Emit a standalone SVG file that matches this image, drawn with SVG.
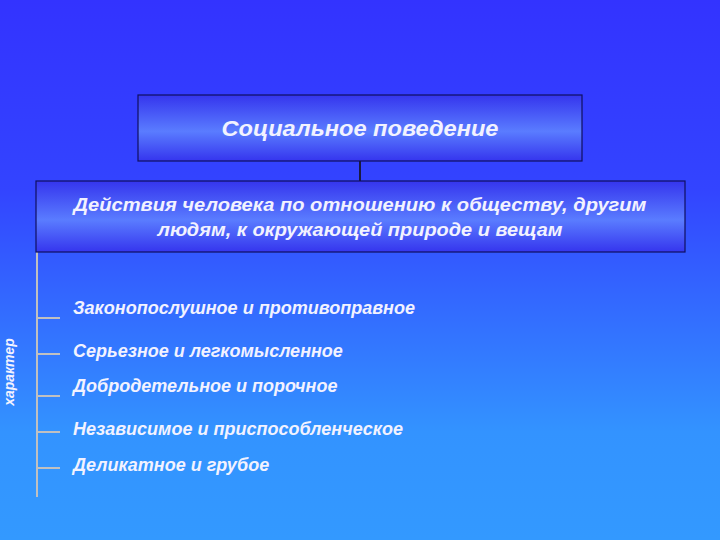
<svg xmlns="http://www.w3.org/2000/svg" width="720" height="540" viewBox="0 0 720 540">
  <defs>
    <linearGradient id="bg" x1="0" y1="0" x2="0" y2="1">
      <stop offset="0" stop-color="#3333FF"/>
      <stop offset="0.35" stop-color="#3344FF"/>
      <stop offset="0.8" stop-color="#3393FF"/>
      <stop offset="1" stop-color="#3399FF"/>
    </linearGradient>
    <linearGradient id="box" x1="0" y1="0" x2="0" y2="1">
      <stop offset="0" stop-color="#3535EE"/>
      <stop offset="0.55" stop-color="#5A7CFF"/>
      <stop offset="1" stop-color="#3535EE"/>
    </linearGradient>
    <style>
      .node { fill: url(#box); stroke: #101060; stroke-width: 1.2; }
      .t { font-family: "Liberation Sans", Arial, sans-serif; font-style: italic; font-weight: bold; fill: #F2F2FF; }
      .conn { stroke: #1a1a40; stroke-width: 2; fill: none; }
      .grey { stroke: #C0C0C0; stroke-width: 2; fill: none; }
    </style>
  </defs>
  <rect x="0" y="0" width="720" height="540" fill="url(#bg)"/>

  <g id="connectors">
    <line class="conn" x1="360" y1="161" x2="360" y2="181"/>
    <line class="grey" x1="37" y1="252" x2="37" y2="497"/>
    <line class="grey" x1="37" y1="318" x2="60" y2="318"/>
    <line class="grey" x1="37" y1="354" x2="60" y2="354"/>
    <line class="grey" x1="37" y1="396" x2="60" y2="396"/>
    <line class="grey" x1="37" y1="432" x2="60" y2="432"/>
    <line class="grey" x1="37" y1="468" x2="60" y2="468"/>
  </g>

  <g id="node-social">
    <rect class="node" x="138" y="95" width="444" height="66"/>
    <text class="t" x="360" y="136" font-size="22" text-anchor="middle" textLength="277" lengthAdjust="spacingAndGlyphs">Социальное поведение</text>
  </g>

  <g id="node-actions">
    <rect class="node" x="36" y="181" width="649" height="71"/>
    <text class="t" x="360" y="211" font-size="19" text-anchor="middle" textLength="573" lengthAdjust="spacingAndGlyphs">Действия человека по отношению к обществу, другим</text>
    <text class="t" x="360" y="236" font-size="19" text-anchor="middle" textLength="405" lengthAdjust="spacingAndGlyphs">людям, к окружающей природе и вещам</text>
  </g>

  <g id="label-character">
    <text class="t" x="0" y="0" font-size="14" text-anchor="middle" transform="translate(14,372) rotate(-90)">характер</text>
  </g>

  <g id="item-1"><text class="t" x="73" y="314" font-size="18" textLength="342" lengthAdjust="spacingAndGlyphs">Законопослушное и противоправное</text></g>
  <g id="item-2"><text class="t" x="73" y="357" font-size="18">Серьезное и легкомысленное</text></g>
  <g id="item-3"><text class="t" x="73" y="392" font-size="18">Добродетельное и порочное</text></g>
  <g id="item-4"><text class="t" x="73" y="435" font-size="18">Независимое и приспособленческое</text></g>
  <g id="item-5"><text class="t" x="73" y="471" font-size="18">Деликатное и грубое</text></g>
</svg>
